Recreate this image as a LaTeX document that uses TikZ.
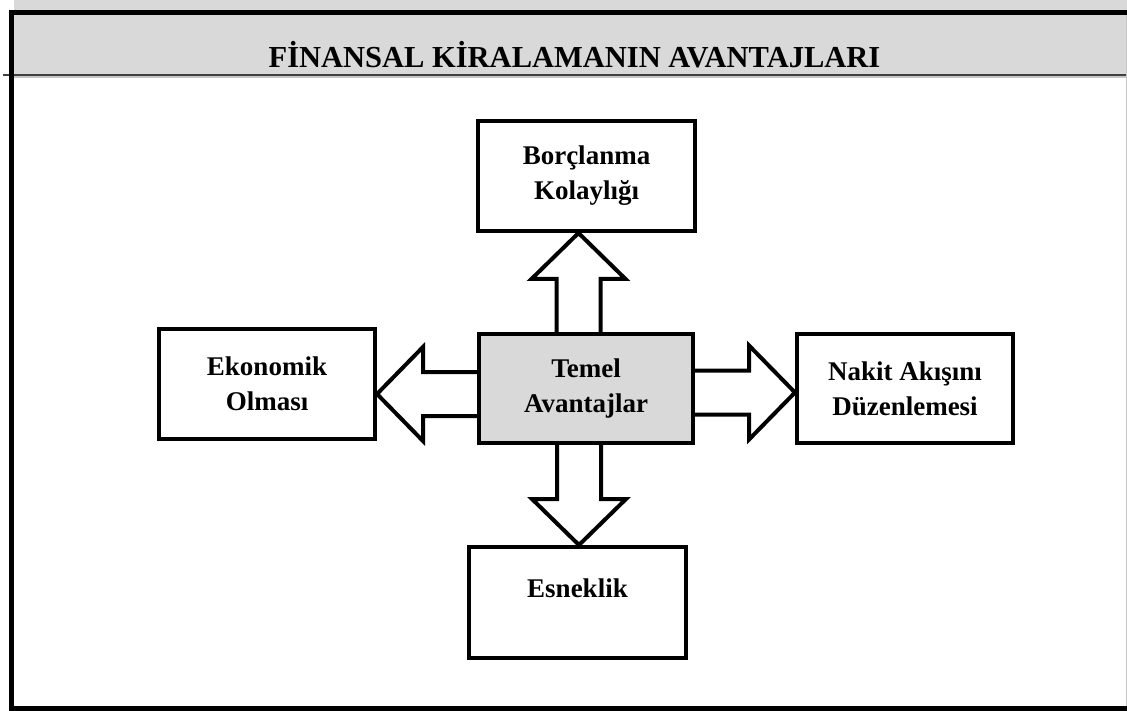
\documentclass[tikz,border=0pt]{standalone}
\usepackage{fontspec}
\setmainfont{Liberation Serif}
\usetikzlibrary{calc,backgrounds}
\definecolor{bandgray}{HTML}{D9D9D9}

% Hollow block arrow from #1 (shaft start) to #2 (tip)
\newcommand\blockarrow[2]{%
  \coordinate (ba-base) at ($(#2)!46pt!(#1)$);
  \filldraw[hollowarrow]
    ($(#1)!22pt!90:(#2)$) -- ($(ba-base)!22pt!90:(#2)$) --
    ($(ba-base)!47pt!90:(#2)$) -- (#2) --
    ($(ba-base)!47pt!-90:(#2)$) -- ($(ba-base)!22pt!-90:(#2)$) --
    ($(#1)!22pt!-90:(#2)$);
}

\tikzset{
  box/.style={draw, line width=4pt, fill=white, align=center,
    font=\fontsize{27}{35}\selectfont\bfseries, inner sep=0pt},
  hollowarrow/.style={draw, line width=4pt, fill=white, line join=miter},
  frameline/.style={line width=5pt, black},
}

\begin{document}
\begin{tikzpicture}[x=1pt, y=-1pt]
\useasboundingbox (0,0) rectangle (1127,711);

% boxes
\node[box, fill=bandgray, minimum width=214pt, minimum height=109pt] (c) at (586,388.5) {Temel\\Avantajlar};
\node[box, minimum width=217pt, minimum height=110pt] (top) at (586.5,176) {Borçlanma\\Kolaylığı};
\node[box, minimum width=216pt, minimum height=110pt] (left) at (267,384) {Ekonomik\\Olması};
\node[box, minimum width=216pt, minimum height=109pt] (right) at (905,388.5) {Nakit Akışını\\Düzenlemesi};
\node[box, minimum width=217pt, minimum height=111pt, text height=18pt, text depth=29pt] (bot) at (577.5,602.5) {Esneklik};

% title
\node[anchor=base, font=\fontsize{30.5}{36}\selectfont\bfseries, inner sep=0pt] (title) at (574.5,67.5) {FİNANSAL KİRALAMANIN AVANTAJLARI};

\begin{scope}[on background layer]
  % header band and frame
  \fill[bandgray] (14,0) rectangle (1127,75);
  \draw[line width=2pt, gray!45] (14,77.5) -- (1127,77.5);
  \draw[line width=1.5pt, black!75] (3,75) -- (1127,75);
  \draw[line width=0.8pt, gray!45] (1126.5,15) -- (1126.5,706);
  \draw[frameline] (1140,12.5) -- (11,12.5) -- (11,708.5) -- (1140,708.5);

  % axes of the block arrows
  \coordinate (axU) at (578.5,0);
  \coordinate (axD) at (579,0);
  \coordinate (axL) at (0,394);
  \coordinate (axR) at (0,392.5);

  \coordinate (u0) at (axU |- c.north);
  \coordinate (u1) at (axU |- top.south);
  \coordinate (d0) at (axD |- c.south);
  \coordinate (d1) at (axD |- bot.north);
  \coordinate (l0) at (c.west |- axL);
  \coordinate (l1) at (left.east |- axL);
  \coordinate (r0) at (c.east |- axR);
  \coordinate (r1) at (right.west |- axR);

  \blockarrow{u0}{u1}
  \blockarrow{d0}{d1}
  \blockarrow{l0}{l1}
  \blockarrow{r0}{r1}
\end{scope}
\end{tikzpicture}
\end{document}
